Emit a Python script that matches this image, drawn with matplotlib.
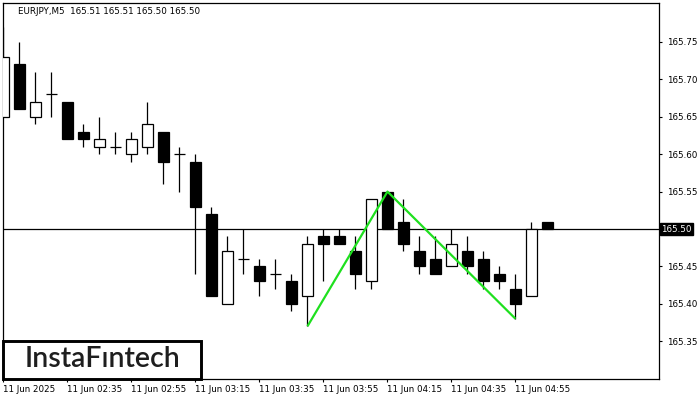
import matplotlib
matplotlib.use("Agg")
import matplotlib.pyplot as plt
from matplotlib.patches import Rectangle

# ─── data (EURJPY M5, 11 Jun 2025 from 02:15) ──────────────────────────────────
opens  = [165.65, 165.72, 165.65, 165.68, 165.67, 165.63, 165.61, 165.61, 165.60, 165.61,
          165.63, 165.60, 165.59, 165.52, 165.40, 165.46, 165.45, 165.44, 165.43, 165.41,
          165.49, 165.49, 165.47, 165.43, 165.55, 165.51, 165.47, 165.46, 165.45, 165.47,
          165.46, 165.44, 165.42, 165.41, 165.51]
highs  = [165.77, 165.75, 165.71, 165.71, 165.67, 165.64, 165.65, 165.63, 165.63, 165.67,
          165.63, 165.61, 165.60, 165.53, 165.49, 165.50, 165.46, 165.46, 165.44, 165.49,
          165.50, 165.50, 165.49, 165.54, 165.55, 165.54, 165.49, 165.49, 165.50, 165.49,
          165.47, 165.45, 165.44, 165.51, 165.51]
lows   = [165.65, 165.66, 165.64, 165.65, 165.62, 165.61, 165.60, 165.60, 165.59, 165.60,
          165.56, 165.55, 165.44, 165.41, 165.40, 165.44, 165.41, 165.42, 165.39, 165.37,
          165.43, 165.48, 165.42, 165.42, 165.50, 165.47, 165.44, 165.44, 165.45, 165.44,
          165.42, 165.42, 165.38, 165.41, 165.50]
closes = [165.73, 165.66, 165.67, 165.68, 165.62, 165.62, 165.62, 165.61, 165.62, 165.64,
          165.59, 165.60, 165.53, 165.41, 165.47, 165.46, 165.43, 165.44, 165.40, 165.48,
          165.48, 165.48, 165.44, 165.54, 165.50, 165.48, 165.45, 165.44, 165.48, 165.45,
          165.43, 165.43, 165.40, 165.50, 165.50]

# double top pattern: bar index / price
pattern_bars   = [19, 24, 32]
pattern_prices = [165.37, 165.55, 165.38]

current_price = 165.50
header = "EURJPY,M5  165.51 165.51 165.50 165.50"

time_ticks  = [0, 4, 8, 12, 16, 20, 24, 28, 32]
time_labels = ["11 Jun 2025", "11 Jun 02:35", "11 Jun 02:55", "11 Jun 03:15", "11 Jun 03:35",
               "11 Jun 03:55", "11 Jun 04:15", "11 Jun 04:35", "11 Jun 04:55"]
price_ticks = [165.35, 165.40, 165.45, 165.55, 165.60, 165.65, 165.70, 165.75]

# ─── figure ────────────────────────────────────────────────────────────────────
W, H = 700, 400
y_lo, y_hi = 165.2995, 165.8021
fig = plt.figure(figsize=(7, 4), dpi=100)
ax = fig.add_axes([3 / W, 21 / H, 656 / W, 376 / H])
ax.set_xlim(-0.03, 40.97)
ax.set_ylim(y_lo, y_hi)

for s in ax.spines.values():
    s.set_linewidth(0.9)
    s.set_color("black")

body_w = 0.69
for i, (o, h, l, c) in enumerate(zip(opens, highs, lows, closes)):
    ax.vlines(i, l, h, color="black", linewidth=0.9, zorder=2)
    face = "white" if c > o else "black"
    ax.add_patch(Rectangle((i - body_w / 2, min(o, c)), body_w, abs(c - o),
                           facecolor=face, edgecolor="black", linewidth=0.9, zorder=3))

ax.axhline(current_price, color="black", linewidth=0.9, zorder=1)
ax.plot(pattern_bars, pattern_prices, color="#1fe01f", linewidth=1.6, zorder=4,
        solid_capstyle="butt")

# axes ticks
ax.yaxis.tick_right()
ax.set_yticks(price_ticks)
ax.set_yticklabels([f"{p:.2f}" for p in price_ticks])
ax.set_xticks(time_ticks)
ax.set_xticklabels(time_labels, ha="left")
ax.tick_params(axis="both", direction="out", length=2.5, width=0.8, labelsize=6.3,
               colors="black", pad=2)
ax.tick_params(axis="y", pad=3)

# current price tag
ax.text(1.003, (current_price - y_lo) / (y_hi - y_lo), f"{current_price:.2f}",
        transform=ax.transAxes, ha="left", va="center", fontsize=6.3, color="white",
        bbox=dict(boxstyle="square,pad=0.15", facecolor="black", edgecolor="black"))

fig.text(18 / W, 1 - 11 / H, header, ha="left", va="center", fontsize=6.3, color="black")

# logo box
fig.patches.append(Rectangle((3 / W, 21 / H), 198 / W, 38 / H, transform=fig.transFigure,
                             facecolor="white", edgecolor="black", linewidth=2.1, zorder=5))
fig.text(103 / W, 1 - 359 / H, "InstaF\u0131ntech", ha="center", va="center",
         fontsize=20.5, family="Lato", fontweight="semibold", color="#1e1e1e", zorder=6)

fig.savefig("out.png", dpi=100)
